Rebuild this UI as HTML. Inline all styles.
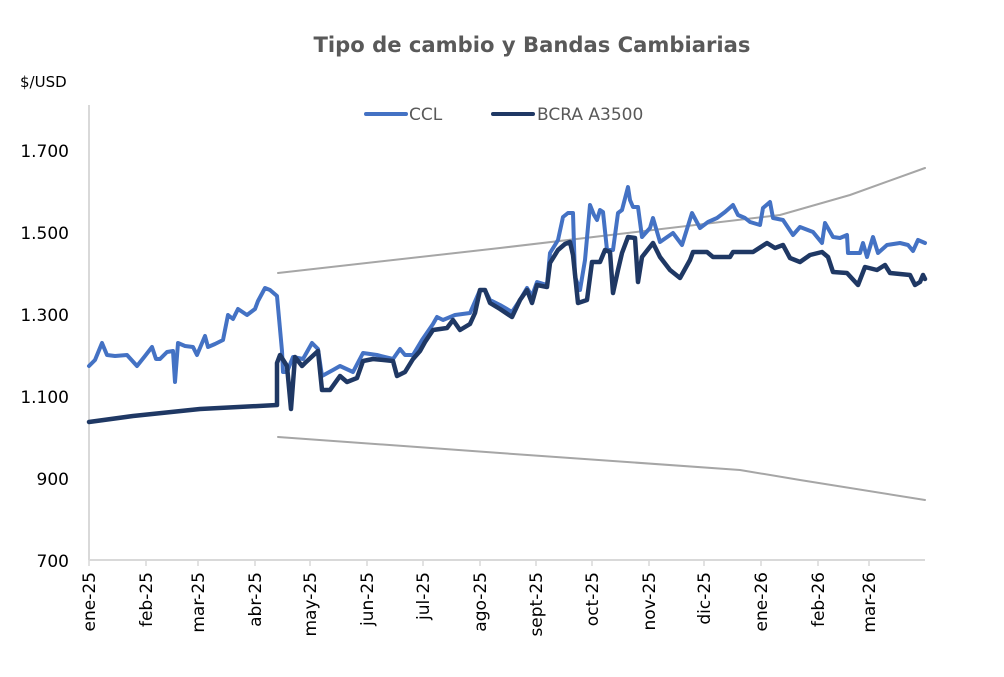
<!DOCTYPE html>
<html><head><meta charset="utf-8"><style>
html,body{margin:0;padding:0;background:#fff;}
svg{display:block;font-family:"DejaVu Sans","Liberation Sans",sans-serif;}
</style></head><body>
<svg width="1004" height="677" viewBox="0 0 1004 677">
<text x="532" y="52" text-anchor="middle" font-size="21" font-weight="bold" fill="#595959" textLength="437" lengthAdjust="spacingAndGlyphs">Tipo de cambio y Bandas Cambiarias</text>
<text x="20" y="87" font-size="15" fill="#000">$/USD</text>
<g font-size="17" fill="#000" text-anchor="end">
<text x="69" y="157">1.700</text><text x="69" y="239">1.500</text><text x="69" y="321">1.300</text>
<text x="69" y="403">1.100</text><text x="69" y="485">900</text><text x="69" y="567">700</text>
</g>
<line x1="89" y1="105" x2="89" y2="560" stroke="#d9d9d9" stroke-width="2"/>
<line x1="89" y1="560" x2="925" y2="560" stroke="#d9d9d9" stroke-width="2"/>
<g stroke="#d9d9d9" stroke-width="1.5">
<line x1="89" y1="560" x2="89" y2="566"/><line x1="146" y1="560" x2="146" y2="566"/><line x1="198" y1="560" x2="198" y2="566"/><line x1="255" y1="560" x2="255" y2="566"/><line x1="310" y1="560" x2="310" y2="566"/><line x1="367" y1="560" x2="367" y2="566"/><line x1="423" y1="560" x2="423" y2="566"/><line x1="480" y1="560" x2="480" y2="566"/><line x1="536" y1="560" x2="536" y2="566"/><line x1="592" y1="560" x2="592" y2="566"/><line x1="649" y1="560" x2="649" y2="566"/><line x1="704" y1="560" x2="704" y2="566"/><line x1="761" y1="560" x2="761" y2="566"/><line x1="818" y1="560" x2="818" y2="566"/><line x1="869" y1="560" x2="869" y2="566"/>
</g>
<g font-size="17" fill="#000" text-anchor="end">
<text transform="translate(95,572) rotate(-90)">ene-25</text>
<text transform="translate(152,572) rotate(-90)">feb-25</text>
<text transform="translate(204,572) rotate(-90)">mar-25</text>
<text transform="translate(261,572) rotate(-90)">abr-25</text>
<text transform="translate(316,572) rotate(-90)">may-25</text>
<text transform="translate(373,572) rotate(-90)">jun-25</text>
<text transform="translate(429,572) rotate(-90)">jul-25</text>
<text transform="translate(486,572) rotate(-90)">ago-25</text>
<text transform="translate(542,572) rotate(-90)">sept-25</text>
<text transform="translate(598,572) rotate(-90)">oct-25</text>
<text transform="translate(655,572) rotate(-90)">nov-25</text>
<text transform="translate(710,572) rotate(-90)">dic-25</text>
<text transform="translate(767,572) rotate(-90)">ene-26</text>
<text transform="translate(824,572) rotate(-90)">feb-26</text>
<text transform="translate(875,572) rotate(-90)">mar-26</text>
</g>
<g fill="none" stroke-linejoin="round" stroke-linecap="round">
<polyline stroke="#a6a6a6" stroke-width="2" points="278,273 500,248 780,215 850,195 925,168"/>
<polyline stroke="#a6a6a6" stroke-width="2" points="278,437 500,453 740,470 800,480 925,500"/>
<polyline stroke="#4472c4" stroke-width="4" points="89,366 95,360 102,343 107,355 115,356 127,355 137,366 145,356 152,347 156,359 160,359 167,352 173,351 175,382 178,343 185,346 193,347 197,355 205,336 208,347 215,344 223,340 228,315 233,319 238,309 247,315 255,309 258,301 265,288 270,290 277,296 282,351 283,372 287,372 293,357 303,359 312,343 318,349 322,376 333,370 340,366 353,372 363,353 377,355 393,359 400,349 405,355 413,355 422,340 433,324 437,317 443,320 455,315 470,313 480,290 485,290 490,300 500,305 512,312 520,300 527,288 532,296 537,282 547,285 550,253 555,245 558,240 563,217 568,213 573,213 575,277 580,290 585,260 590,205 594,215 597,220 600,210 603,212 607,250 613,250 618,213 622,210 628,187 630,200 633,207 638,207 642,237 650,228 653,218 660,242 673,233 682,245 692,213 700,228 708,222 717,218 725,212 733,205 738,215 745,218 750,222 760,225 763,208 770,202 773,218 783,220 793,235 800,227 813,232 822,243 825,223 833,237 840,238 847,235 848,253 860,253 863,243 867,257 873,237 878,253 887,245 900,243 908,245 913,251 918,240 925,243"/>
<polyline stroke="#1f3864" stroke-width="4.5" points="89,422 133,416 200,409 277,405 277,363 280,355 287,366 291,409 295,357 302,366 305,363 318,351 322,390 330,390 340,376 347,382 357,378 363,361 373,359 393,361 397,376 405,372 413,359 420,351 425,342 433,330 447,328 453,320 460,330 470,324 475,313 480,290 485,290 490,303 500,309 512,317 520,300 527,290 532,303 537,285 547,287 550,263 558,250 565,244 570,242 573,255 578,303 587,300 592,262 600,262 605,250 610,252 613,293 618,270 622,253 628,237 635,238 638,282 642,257 653,243 660,257 670,270 680,278 690,260 693,252 707,252 713,257 730,257 733,252 753,252 767,243 775,248 783,245 790,258 800,262 810,255 822,252 828,257 833,272 847,273 858,285 865,267 877,270 885,265 890,273 910,275 915,285 920,282 923,275 925,279"/>
</g>
<line x1="366" y1="114" x2="406" y2="114" stroke="#4472c4" stroke-width="4" stroke-linecap="round"/>
<text x="409" y="120" font-size="17" fill="#595959">CCL</text>
<line x1="493" y1="114" x2="533" y2="114" stroke="#1f3864" stroke-width="4" stroke-linecap="round"/>
<text x="537" y="120" font-size="17" fill="#595959">BCRA A3500</text>
</svg>
</body></html>
